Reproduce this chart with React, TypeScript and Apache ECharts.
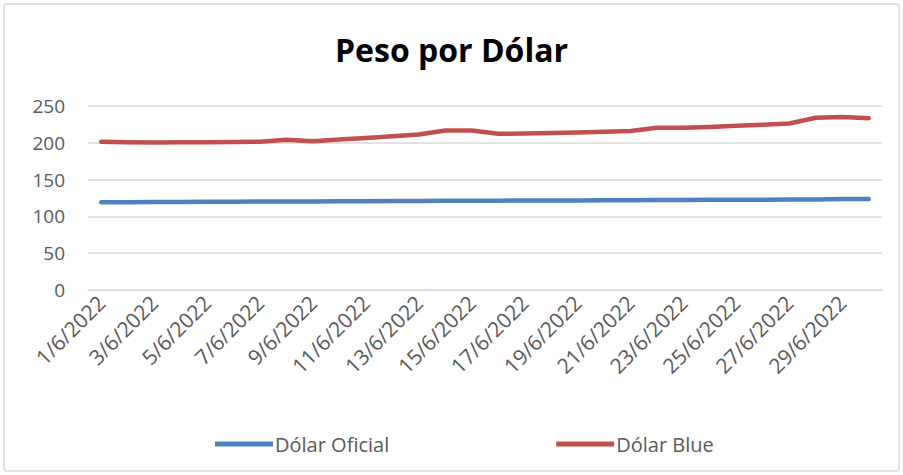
import React, { useEffect, useRef } from "react";
import * as echarts from "echarts";

const dates = [
  "1/6/2022", "2/6/2022", "3/6/2022", "4/6/2022", "5/6/2022", "6/6/2022",
  "7/6/2022", "8/6/2022", "9/6/2022", "10/6/2022", "11/6/2022", "12/6/2022",
  "13/6/2022", "14/6/2022", "15/6/2022", "16/6/2022", "17/6/2022", "18/6/2022",
  "19/6/2022", "20/6/2022", "21/6/2022", "22/6/2022", "23/6/2022", "24/6/2022",
  "25/6/2022", "26/6/2022", "27/6/2022", "28/6/2022", "29/6/2022", "30/6/2022",
];

const dolarOficial = [
  119.2, 119.3, 119.5, 119.6, 119.8, 120, 120.1, 120.3, 120.4, 120.5,
  120.6, 120.8, 121, 121.1, 121.3, 121.4, 121.5, 121.6, 121.7, 121.9,
  122, 122.2, 122.3, 122.5, 122.6, 122.7, 122.8, 123.1, 123.5, 123.7,
];

const dolarBlue = [
  201.4, 200.6, 200.5, 200.6, 200.8, 201, 201.5, 204.3, 202.2, 204.5,
  206.5, 209, 211.2, 216.8, 216.8, 212.2, 212.6, 213.2, 214, 215,
  216, 220.5, 220.6, 221.6, 223, 224.5, 226.2, 234, 235, 233.4,
];

const yTicks = { min: 0, max: 250, interval: 50 };

const FONT = "'Open Sans', 'Noto Sans', sans-serif";

export default function App() {
  const ref = useRef<HTMLDivElement>(null);
  useEffect(() => {
    if (!ref.current) return;
    const chart = echarts.init(ref.current, null, { renderer: "svg" });
    chart.setOption({
      animation: false,
      backgroundColor: "#ffffff",
      textStyle: { fontFamily: FONT },
      title: {
        text: "Peso por Dólar",
        left: "center",
        top: 28,
        textStyle: { fontFamily: FONT, fontWeight: "bold", fontSize: 32, color: "#000000" },
      },
      graphic: [
        {
          type: "rect",
          shape: { x: 4, y: 4, width: 895, height: 467, r: 3 },
          style: { fill: "none", stroke: "#d9d9d9", lineWidth: 1.5 },
          silent: true,
        },
      ],
      legend: {
        bottom: 16,
        left: 210,
        itemGap: 167,
        itemWidth: 58,
        itemHeight: 5,
        icon: "rect",
        textStyle: { fontFamily: FONT, fontSize: 20, color: "#595959", padding: [0, 0, 0, -3] },
        data: ["Dólar Oficial", "Dólar Blue"],
      },
      grid: { left: 88, right: 21, top: 106, bottom: 185, containLabel: false },
      xAxis: {
        type: "category",
        data: dates,
        boundaryGap: true,
        axisLine: { lineStyle: { color: "#d9d9d9", width: 1.5 } },
        axisTick: { show: false },
        axisLabel: {
          interval: 1,
          rotate: 45,
          fontFamily: FONT,
          fontSize: 21,
          color: "#595959",
          margin: 9,
        },
      },
      yAxis: {
        type: "value",
        min: yTicks.min,
        max: yTicks.max,
        interval: yTicks.interval,
        axisLine: { show: false },
        axisTick: { show: false },
        splitLine: { lineStyle: { color: "#d9d9d9", width: 1.5 } },
        axisLabel: { fontFamily: FONT, fontSize: 19, color: "#595959", margin: 23 },
      },
      series: [
        {
          name: "Dólar Oficial",
          type: "line",
          data: dolarOficial,
          showSymbol: false,
          symbol: "none",
          lineStyle: { color: "#4F81BD", width: 4.5, cap: "round", join: "round" },
          itemStyle: { color: "#4F81BD" },
        },
        {
          name: "Dólar Blue",
          type: "line",
          data: dolarBlue,
          showSymbol: false,
          symbol: "none",
          lineStyle: { color: "#C0504D", width: 4.5, cap: "round", join: "round" },
          itemStyle: { color: "#C0504D" },
        },
      ],
    });
    return () => chart.dispose();
  }, []);
  return (
    <div
      ref={ref}
      style={{ position: "fixed", left: 0, top: 0, width: 903, height: 475 }}
    />
  );
}
